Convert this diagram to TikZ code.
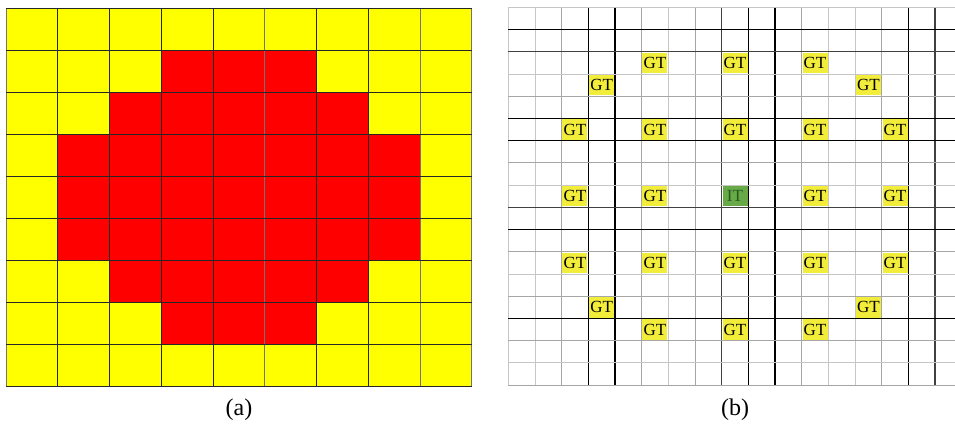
\documentclass[tikz,border=0pt]{standalone}
\usepackage{fontspec}
\setmainfont{Liberation Serif}
\definecolor{cellyellow}{RGB}{255,255,0}
\definecolor{cellred}{RGB}{255,0,0}
\definecolor{gtyellow}{RGB}{242,236,58}
\definecolor{cutgreen}{RGB}{104,170,72}
\definecolor{cuttext}{RGB}{40,90,30}
\tikzset{
  agrid/.style={draw=black!85, line width=0.8pt},
  aglight/.style={draw=black!55, line width=0.8pt},
  lgrid/.style={draw=gray!45, line width=0.7pt},
  mgrid/.style={draw=gray!70, line width=0.8pt},
  dgrid/.style={draw=black!75, line width=1.1pt},
  bgrid/.style={draw=black, line width=1.4pt},
  gtcell/.style={fill=gtyellow, inner sep=0pt, minimum width=25pt, minimum height=20.5pt,
    font=\fontsize{17}{17}\selectfont},
  cutcell/.style={gtcell, fill=cutgreen, text=cuttext},
  caption/.style={font=\fontsize{24}{24}\selectfont}
}
\begin{document}
\begin{tikzpicture}[x=1pt,y=-1pt]
\fill[white] (0,0) rectangle (955,426);
\useasboundingbox (0,0) rectangle (955,426);

% (a) cells
\fill[cellyellow] (6,8.3) rectangle (471.7,386);
\foreach \r/\a/\b in {1/3/5, 2/2/6, 3/1/7, 4/1/7, 5/1/7, 6/2/6, 7/3/5}
  \fill[cellred] ({6+\a*51.74},{8.3+\r*41.97}) rectangle ({6+(\b+1)*51.74},{8.3+(\r+1)*41.97});
\foreach \i/\s in {0/aglight,1/agrid,2/agrid,3/agrid,4/agrid,5/aglight,6/agrid,7/agrid,8/aglight,9/aglight}
  \draw[\s] ({6+\i*51.74},8.3) -- ({6+\i*51.74},386);
\foreach \i in {0,...,9}
  \draw[agrid] (6,{8.3+\i*41.97}) -- (471.7,{8.3+\i*41.97});

% (b) grid
\foreach \i/\s in {0/lgrid,1/lgrid,2/mgrid,3/bgrid,4/bgrid,5/mgrid,6/lgrid,7/mgrid,8/dgrid,
    9/bgrid,10/bgrid,11/mgrid,12/lgrid,13/lgrid,14/mgrid,15/bgrid,16/dgrid}
  \draw[\s] ({508.3+\i*26.67},7.3) -- ({508.3+\i*26.67},385);
\foreach \i/\s in {0/lgrid,1/bgrid,2/dgrid,3/lgrid,4/mgrid,5/bgrid,6/bgrid,7/mgrid,8/lgrid,
    9/dgrid,10/bgrid,11/mgrid,12/lgrid,13/mgrid,14/bgrid,15/mgrid,16/lgrid,17/mgrid}
  \draw[\s] (508.3,{7.3+\i*22.22}) -- (955,{7.3+\i*22.22});

% guard cells
\foreach \c/\r [count=\k] in {5/2,8/2,11/2, 3/3,13/3, 2/5,5/5,8/5,11/5,14/5,
    2/8,5/8,11/8,14/8, 2/11,5/11,8/11,11/11,14/11, 3/13,13/13, 5/14,8/14,11/14}
  \node[gtcell] (gt\k) at ({508.3+(\c+0.5)*26.67},{7.3+(\r+0.5)*22.22}) {GT};
\node[cutcell] (cut) at ({508.3+8.5*26.67},{7.3+8.5*22.22}) {IT};

\node[caption] (capa) at (239,410) {(a)};
\node[caption] (capb) at (735,410) {(b)};
\end{tikzpicture}
\end{document}
